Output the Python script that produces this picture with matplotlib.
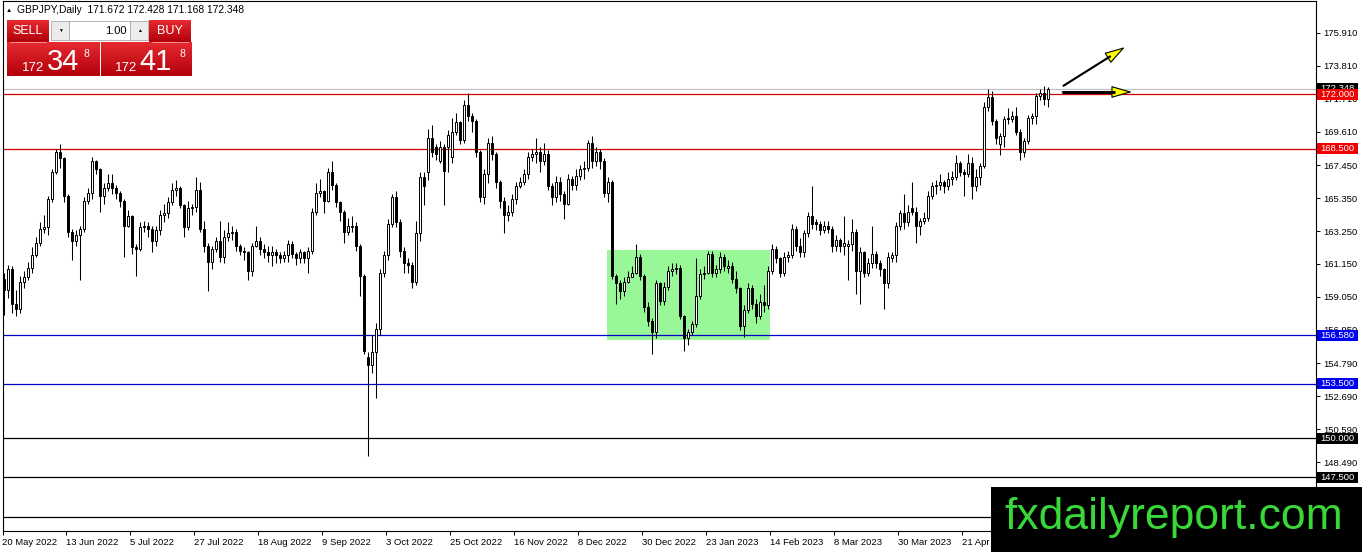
import matplotlib
matplotlib.use('Agg')
import matplotlib.pyplot as plt
import matplotlib.transforms as mtransforms
from matplotlib.patches import Rectangle
from matplotlib.colors import LinearSegmentedColormap
import numpy as np

plt.rcParams['font.family'] = ['Liberation Sans', 'DejaVu Sans']

# GBPJPY daily candles, 20 May 2022 onwards
opens = [
    160.2, 159.5, 160.8, 158.6, 158.3, 160.0, 160.3, 160.9, 161.7, 162.5,
    163.4, 163.5, 165.3, 167.0, 168.3, 167.9, 165.5, 163.2, 162.6, 163.0,
    163.4, 165.2, 165.7, 167.7, 167.2, 165.5, 166.0, 166.3, 166.0, 165.7,
    165.2, 163.6, 164.2, 162.2, 162.1, 163.5, 163.6, 163.4, 162.6, 163.3,
    164.3, 164.4, 165.1, 165.9, 166.0, 164.9, 163.5, 164.7, 164.8, 165.9,
    163.4, 162.3, 161.3, 162.1, 162.6, 161.6, 162.9, 163.1, 163.2, 162.3,
    162.0, 161.9, 160.7, 162.3, 162.6, 162.1, 161.9, 161.7, 161.9, 161.7,
    161.5, 161.7, 162.4, 161.8, 161.5, 161.9, 161.5, 162.0, 164.5, 165.7,
    165.8, 165.2, 167.0, 166.2, 165.1, 164.5, 163.2, 163.5, 163.6, 162.3,
    160.4, 155.2, 154.7, 155.5, 157.0, 160.6, 161.7, 163.7, 165.4, 163.8,
    162.0, 161.2, 161.1, 160.0, 163.1, 166.7, 167.0, 169.2, 168.6, 167.7,
    168.6, 168.6, 168.0, 169.6, 170.2, 169.1, 171.3, 170.6, 170.3, 168.3,
    165.4, 166.9, 168.9, 168.2, 166.4, 165.2, 164.3, 164.5, 165.3, 166.1,
    166.4, 166.9, 168.0, 168.2, 168.3, 167.7, 168.2, 166.1, 165.4, 166.4,
    165.6, 165.0, 166.6, 166.2, 166.8, 167.2, 167.3, 168.9, 167.7, 168.3,
    167.7, 165.7, 166.4, 160.4, 159.9, 159.4, 160.0, 160.3, 160.6, 161.6,
    160.4, 158.4, 157.5, 156.8, 159.9, 158.8, 159.7, 160.7, 160.8, 160.9,
    157.8, 156.4, 156.8, 157.3, 159.1, 160.5, 160.6, 161.8, 160.6, 160.8,
    161.6, 160.9, 161.0, 160.2, 159.6, 157.2, 158.2, 159.6, 158.6, 157.8,
    158.7, 158.5, 160.7, 162.1, 161.5, 160.6, 161.6, 161.7, 163.4, 162.3,
    161.9, 163.1, 164.2, 163.8, 163.7, 163.3, 163.6, 163.4, 162.3, 162.7,
    162.3, 162.3, 162.4, 163.2, 160.7, 161.9, 160.6, 161.2, 161.8, 161.2,
    160.8, 159.9, 161.5, 161.7, 163.6, 164.4, 163.8, 164.7, 164.5, 163.6,
    163.9, 164.1, 165.5, 166.1, 166.2, 166.4, 166.1, 166.6, 166.7, 167.6,
    167.0, 166.9, 167.6, 166.1, 166.7, 167.4, 171.2, 171.8, 170.3, 168.8,
    169.3, 170.5, 170.4, 170.6, 169.6, 168.3, 169.0, 170.5, 170.6, 171.9,
    172.1, 171.672,
]
highs = [
    160.6, 161.1, 161.0, 159.5, 160.4, 160.7, 161.3, 162.2, 162.9, 163.8,
    164.3, 165.5, 167.2, 168.5, 168.8, 168.0, 165.6, 163.4, 163.3, 163.6,
    165.4, 166.0, 168.0, 167.8, 167.3, 166.3, 166.9, 166.9, 166.2, 165.8,
    165.3, 164.6, 164.3, 162.4, 163.8, 163.9, 163.8, 163.6, 163.6, 164.6,
    165.0, 165.4, 166.3, 166.5, 166.1, 165.0, 165.2, 165.0, 166.7, 166.4,
    163.9, 162.5, 162.3, 162.9, 163.9, 163.3, 163.8, 163.6, 163.4, 162.4,
    162.2, 162.0, 162.5, 163.6, 162.9, 162.4, 162.3, 162.3, 162.1, 161.9,
    162.0, 162.7, 162.6, 161.9, 162.1, 162.0, 162.2, 164.7, 166.3, 166.6,
    165.9, 167.3, 167.7, 166.3, 165.2, 164.6, 164.1, 164.2, 163.8, 162.4,
    160.5, 155.5, 156.6, 157.4, 160.8, 162.0, 164.0, 165.6, 165.8, 164.0,
    162.2, 161.5, 161.3, 163.9, 167.0, 167.0, 169.8, 170.0, 168.8, 169.0,
    168.8, 169.7, 170.5, 170.8, 170.3, 171.6, 172.1, 170.8, 170.4, 168.4,
    167.2, 169.2, 169.3, 168.3, 166.5, 165.4, 164.9, 165.6, 166.4, 166.7,
    167.2, 168.3, 168.5, 169.2, 168.6, 168.9, 168.4, 166.3, 166.8, 166.7,
    165.8, 166.9, 166.8, 167.2, 167.5, 167.7, 169.1, 169.3, 168.6, 168.5,
    167.9, 166.7, 166.5, 160.5, 160.1, 160.3, 160.7, 161.0, 162.4, 161.8,
    160.5, 158.7, 157.7, 160.1, 160.0, 160.0, 161.0, 161.2, 161.2, 161.1,
    157.9, 157.0, 157.5, 161.5, 160.8, 161.0, 162.0, 162.0, 161.1, 161.9,
    161.8, 161.4, 161.3, 160.7, 159.7, 158.5, 159.9, 159.8, 158.9, 159.2,
    159.8, 161.0, 162.4, 162.3, 161.6, 161.9, 162.0, 163.7, 163.6, 162.8,
    163.3, 164.5, 166.1, 164.0, 163.9, 163.9, 163.9, 163.6, 163.0, 162.8,
    164.2, 162.7, 164.0, 163.4, 162.2, 162.0, 161.5, 163.6, 162.0, 161.4,
    160.9, 161.9, 161.9, 163.8, 164.6, 165.6, 164.9, 166.4, 164.8, 164.1,
    164.5, 165.8, 166.4, 166.5, 166.9, 166.5, 167.0, 167.1, 168.1, 167.7,
    167.2, 168.2, 168.0, 167.2, 167.6, 171.5, 172.3, 172.2, 170.4, 169.5,
    170.6, 171.1, 170.9, 171.2, 169.8, 169.2, 170.7, 170.8, 172.1, 172.3,
    172.5, 172.428,
]
lows = [
    157.9, 159.0, 158.0, 157.8, 158.0, 159.6, 160.1, 160.6, 161.6, 162.3,
    163.1, 163.0, 165.1, 166.9, 167.3, 165.1, 162.9, 161.4, 162.3, 160.1,
    163.2, 165.0, 165.3, 166.9, 164.5, 165.0, 165.8, 165.6, 165.3, 164.8,
    161.6, 163.5, 161.8, 160.4, 162.0, 163.2, 162.9, 161.9, 162.3, 163.0,
    163.8, 164.1, 164.9, 165.5, 164.7, 162.9, 163.3, 164.3, 164.5, 163.2,
    161.9, 159.4, 160.8, 161.9, 161.3, 161.2, 162.6, 162.7, 162.0, 161.7,
    161.4, 160.1, 160.4, 162.2, 161.7, 161.5, 161.3, 161.0, 161.2, 161.2,
    161.3, 161.3, 161.5, 161.1, 161.2, 161.2, 160.6, 161.8, 164.3, 165.4,
    164.4, 165.1, 165.9, 164.8, 163.9, 162.5, 163.0, 163.2, 162.0, 159.1,
    155.4, 148.9, 154.2, 152.6, 156.6, 160.3, 161.4, 163.5, 163.5, 161.6,
    160.6, 160.6, 159.6, 159.8, 162.6, 164.9, 166.5, 168.0, 167.8, 167.6,
    164.9, 167.0, 167.6, 169.4, 168.8, 168.9, 170.3, 169.6, 168.0, 165.1,
    165.0, 166.3, 167.8, 166.0, 164.7, 163.1, 163.9, 164.2, 165.0, 166.0,
    166.2, 166.6, 167.7, 167.6, 167.0, 167.5, 165.9, 164.9, 165.1, 165.2,
    164.0, 164.9, 165.9, 165.9, 166.5, 166.6, 167.1, 167.3, 167.4, 167.2,
    165.4, 165.1, 160.2, 158.6, 158.9, 159.1, 159.9, 160.3, 160.5, 160.1,
    158.1, 157.2, 155.4, 156.4, 158.5, 158.5, 159.5, 160.4, 160.5, 157.6,
    155.6, 156.0, 156.6, 157.1, 158.9, 160.2, 160.5, 160.3, 160.3, 160.6,
    160.7, 160.6, 159.9, 159.3, 156.9, 156.5, 158.0, 158.3, 157.4, 157.6,
    158.1, 158.3, 160.5, 161.2, 160.3, 160.4, 161.3, 161.5, 162.0, 161.6,
    161.6, 162.9, 163.4, 163.3, 163.0, 163.1, 163.1, 161.9, 162.0, 161.9,
    161.7, 160.1, 162.0, 159.2, 158.6, 160.3, 160.4, 160.9, 160.9, 160.4,
    158.3, 159.6, 161.3, 161.3, 163.3, 163.4, 163.6, 164.3, 162.5, 163.0,
    163.7, 163.9, 165.3, 165.6, 165.9, 165.7, 165.9, 166.2, 166.5, 166.8,
    165.5, 166.7, 165.3, 165.8, 166.2, 167.3, 170.9, 170.0, 168.8, 168.1,
    168.6, 170.1, 170.2, 169.4, 167.8, 168.0, 168.8, 170.1, 170.1, 171.6,
    171.3, 171.168,
]
closes = [
    159.5, 160.8, 158.6, 158.3, 160.0, 160.3, 160.9, 161.7, 162.5, 163.4,
    163.5, 165.3, 167.0, 168.3, 167.9, 165.5, 163.2, 162.6, 163.0, 163.4,
    165.2, 165.7, 167.7, 167.2, 165.5, 166.0, 166.3, 166.0, 165.7, 165.2,
    163.6, 164.2, 162.2, 162.1, 163.5, 163.6, 163.4, 162.6, 163.3, 164.3,
    164.4, 165.1, 165.9, 166.0, 164.9, 163.5, 164.7, 164.8, 165.9, 163.4,
    162.3, 161.3, 162.1, 162.6, 161.6, 162.9, 163.1, 163.2, 162.3, 162.0,
    161.9, 160.7, 162.3, 162.6, 162.1, 161.9, 161.7, 161.9, 161.7, 161.5,
    161.7, 162.4, 161.8, 161.5, 161.9, 161.5, 162.0, 164.5, 165.7, 165.8,
    165.2, 167.0, 166.2, 165.1, 164.5, 163.2, 163.6, 163.6, 162.3, 160.4,
    155.6, 154.7, 155.5, 157.0, 160.6, 161.7, 163.7, 165.4, 163.8, 162.0,
    161.2, 161.1, 160.0, 163.1, 166.7, 166.1, 169.2, 168.3, 168.2, 168.6,
    167.1, 169.4, 169.6, 170.2, 169.1, 171.3, 170.6, 170.3, 168.3, 165.4,
    166.9, 168.9, 168.2, 166.4, 165.2, 164.3, 164.5, 165.3, 166.1, 166.4,
    166.9, 168.0, 168.2, 168.3, 167.7, 168.2, 166.1, 165.4, 166.4, 165.6,
    165.0, 166.6, 166.2, 166.8, 167.2, 167.3, 168.9, 167.7, 168.3, 167.7,
    165.7, 166.4, 160.4, 159.9, 159.4, 160.0, 160.3, 160.6, 161.6, 160.4,
    158.4, 157.5, 156.8, 159.9, 158.8, 159.7, 160.7, 160.8, 160.9, 157.8,
    156.4, 156.8, 157.3, 159.1, 160.5, 160.6, 161.8, 160.6, 160.8, 161.6,
    161.0, 161.0, 160.2, 159.6, 157.2, 158.2, 159.6, 158.6, 157.8, 158.7,
    158.5, 160.7, 162.1, 161.5, 160.6, 161.6, 161.7, 163.4, 162.3, 161.9,
    163.1, 164.2, 163.7, 163.7, 163.3, 163.6, 163.4, 162.3, 162.7, 162.3,
    162.5, 162.4, 163.2, 160.7, 161.9, 160.6, 161.2, 161.8, 161.2, 160.8,
    159.9, 161.6, 161.7, 163.6, 164.4, 163.8, 164.5, 164.5, 163.6, 163.9,
    164.1, 165.5, 166.1, 166.2, 166.4, 166.1, 166.6, 166.7, 167.6, 167.0,
    166.9, 167.6, 166.1, 166.7, 167.4, 171.2, 171.8, 170.3, 169.2, 169.3,
    170.4, 170.4, 170.6, 169.6, 168.3, 169.0, 170.5, 170.6, 171.9, 172.1,
    171.7, 172.348,
]

date_labels = ['20 May 2022', '13 Jun 2022', '5 Jul 2022', '27 Jul 2022', '18 Aug 2022',
               '9 Sep 2022', '3 Oct 2022', '25 Oct 2022', '16 Nov 2022', '8 Dec 2022',
               '30 Dec 2022', '23 Jan 2023', '14 Feb 2023', '8 Mar 2023', '30 Mar 2023',
               '21 Apr 2023', '15 May 2023']
bars_per_label = 16

price_ticks = [175.910, 173.810, 171.710, 169.610, 167.450, 165.350, 163.250,
               161.150, 159.050, 156.950, 154.790, 152.690, 150.590, 148.490]

red_levels = [172.000, 168.500]
blue_levels = [156.580, 153.500]
black_levels = [150.000, 147.500, 145.000]
bid, ask = 172.348, 172.418

# consolidation zone (bar positions / prices)
zone_x = (150.7, 191.45)
zone_y = (156.29, 162.04)

W, H = 1362, 552
fig = plt.figure(figsize=(W / 100, H / 100), dpi=100)
ax = fig.add_axes([2.5 / W, 21 / H, 1313.5 / W, 530 / H])
ax.set_xlim(-0.425, 327.95)
ax.set_ylim(144.08, 177.955)

# zone + levels
ax.add_patch(Rectangle((zone_x[0], zone_y[0]), zone_x[1] - zone_x[0], zone_y[1] - zone_y[0],
                       fc='#98f898', ec='none', zorder=1))
ax.axhline(bid, color='#c0c0c0', lw=0.9, zorder=1.5)
for lv in red_levels:
    ax.axhline(lv, color='#d00000', lw=0.9, zorder=2)
for lv in blue_levels:
    ax.axhline(lv, color='#0000c8', lw=0.9, zorder=2)
for lv in black_levels:
    ax.axhline(lv, color='black', lw=0.9, zorder=2)

# candles
o = np.array(opens)
c = np.array(closes)
x = np.arange(len(c))
ax.vlines(x, lows, highs, color='black', lw=0.75, zorder=3)
ax.bar(x, np.abs(c - o), bottom=np.minimum(o, c), width=0.55,
       color=np.where(c >= o, 'white', 'black'), edgecolor='black', linewidth=0.7, zorder=4)

# arrows
def arrow(start, tip, lw, frac):
    ax.annotate('', xy=tip, xytext=start,
                arrowprops=dict(arrowstyle='-|>,head_length=1.3,head_width=0.38',
                                fc='#ffff00', ec='black', lw=0.8, shrinkA=0, shrinkB=0),
                zorder=6, annotation_clip=False)
    base = (start[0] + (tip[0] - start[0]) * frac, start[1] + (tip[1] - start[1]) * frac)
    ax.plot([start[0], base[0]], [start[1], base[1]], color='black', lw=lw,
            solid_capstyle='butt', zorder=6)

arrow((264.7, 172.52), (280.2, 175.01), 1.5, 0.77)
arrow((264.45, 172.14), (281.95, 172.14), 2.1, 0.76)

# axes styling
for sp in ax.spines.values():
    sp.set_linewidth(0.8)
    sp.set_color('black')
ax.yaxis.tick_right()
ax.set_yticks(price_ticks)
ax.set_yticklabels([f'{v:.3f}' for v in price_ticks])
ax.tick_params(axis='y', direction='out', length=3, width=0.7, pad=2, labelsize=6.8)
ax.set_xticks(np.arange(len(date_labels)) * bars_per_label - 0.45)
ax.set_xticklabels(date_labels, ha='left')
ax.tick_params(axis='x', direction='out', length=3, width=0.7, pad=2, labelsize=6.8)

bt = mtransforms.blended_transform_factory(ax.transAxes, ax.transData)
box_h = 11 / 15.646

def price_box(v, fc, z):
    ax.add_patch(Rectangle((1.0008, v - box_h / 2), 41 / 1313.5, box_h, transform=bt,
                           fc=fc, ec='none', clip_on=False, zorder=z))
    ax.text(1.0008 + 3 / 1313.5, v, f'{v:.3f}', transform=bt, color='white', fontsize=6.8,
            va='center', ha='left', clip_on=False, zorder=z + 0.1)

price_box(bid, 'black', 10)
for lv in red_levels:
    price_box(lv, '#f00000', 11)
for lv in blue_levels:
    price_box(lv, '#0000f0', 11)
for lv in black_levels:
    price_box(lv, 'black', 11)

# overlay in pixel coordinates for the trading panel and watermark
ov = fig.add_axes([0, 0, 1, 1])
ov.axis('off')

ov.text(6, 10, '\u25b2', fontsize=4.5, va='center', ha='left')
ov.text(17, 10, f'GBPJPY,Daily  {opens[-1]:.3f} {highs[-1]:.3f} {lows[-1]:.3f} {closes[-1]:.3f}',
        fontsize=7.4, va='center', ha='left')

red_cmap = LinearSegmentedColormap.from_list('btn', ['#e62a30', '#b3000b'])
grad = np.linspace(0, 1, 64).reshape(-1, 1)

def red_box(x0, y0, x1, y1):
    ov.imshow(grad, extent=(x0, x1, y1, y0), cmap=red_cmap, aspect='auto', zorder=1,
              interpolation='bilinear')

red_box(7, 20, 49, 42)
red_box(149, 20, 191, 42)
red_box(7, 42, 99.5, 76)
red_box(100.5, 42, 191, 76)
ov.plot([10, 46], [41.5, 41.5], color='#f5a5a5', lw=0.6, zorder=2)
ov.plot([152, 188], [41.5, 41.5], color='#f5a5a5', lw=0.6, zorder=2)

for x0, x1 in [(51, 69), (130, 148)]:
    ov.add_patch(Rectangle((x0, 21), x1 - x0, 19, fc='#ececec', ec='#a8a8a8', lw=0.6, zorder=2))
ov.add_patch(Rectangle((69, 21), 61, 19, fc='white', ec='#a8a8a8', lw=0.6, zorder=2))
ov.text(60, 30.5, '\u25bc', fontsize=3.5, ha='center', va='center', zorder=3)
ov.text(139, 30.5, '\u25b2', fontsize=3.5, ha='center', va='center', zorder=3)
ov.text(127, 31, '1.00', fontsize=8, ha='right', va='center', zorder=3)
ov.text(28, 31, 'SELL', fontsize=9, color='white', ha='center', va='center', zorder=3)
ov.text(170, 31, 'BUY', fontsize=9, color='white', ha='center', va='center', zorder=3)

for price, x_small, x_big, x_sup in [(bid, 44, 47, 83), (ask, 137, 139, 179)]:
    s = f'{price:.3f}'
    ov.text(x_small, 71, s[:3], fontsize=9.5, color='white', ha='right', va='baseline', zorder=3)
    ov.text(x_big, 70, s[4:6], fontsize=21, color='white', ha='left', va='baseline', zorder=3)
    ov.text(x_sup, 57, s[6], fontsize=7.5, color='white', ha='left', va='baseline', zorder=3)

ov.add_patch(Rectangle((991, 487), W - 991, H - 487, fc='black', ec='none', zorder=5))
ov.text(1174, 518, 'fxdailyreport.com', fontsize=32, color='#38d838', ha='center',
        va='center', zorder=6)

ov.set_xlim(0, W)
ov.set_ylim(H, 0)

fig.savefig('out.png', dpi=100)
